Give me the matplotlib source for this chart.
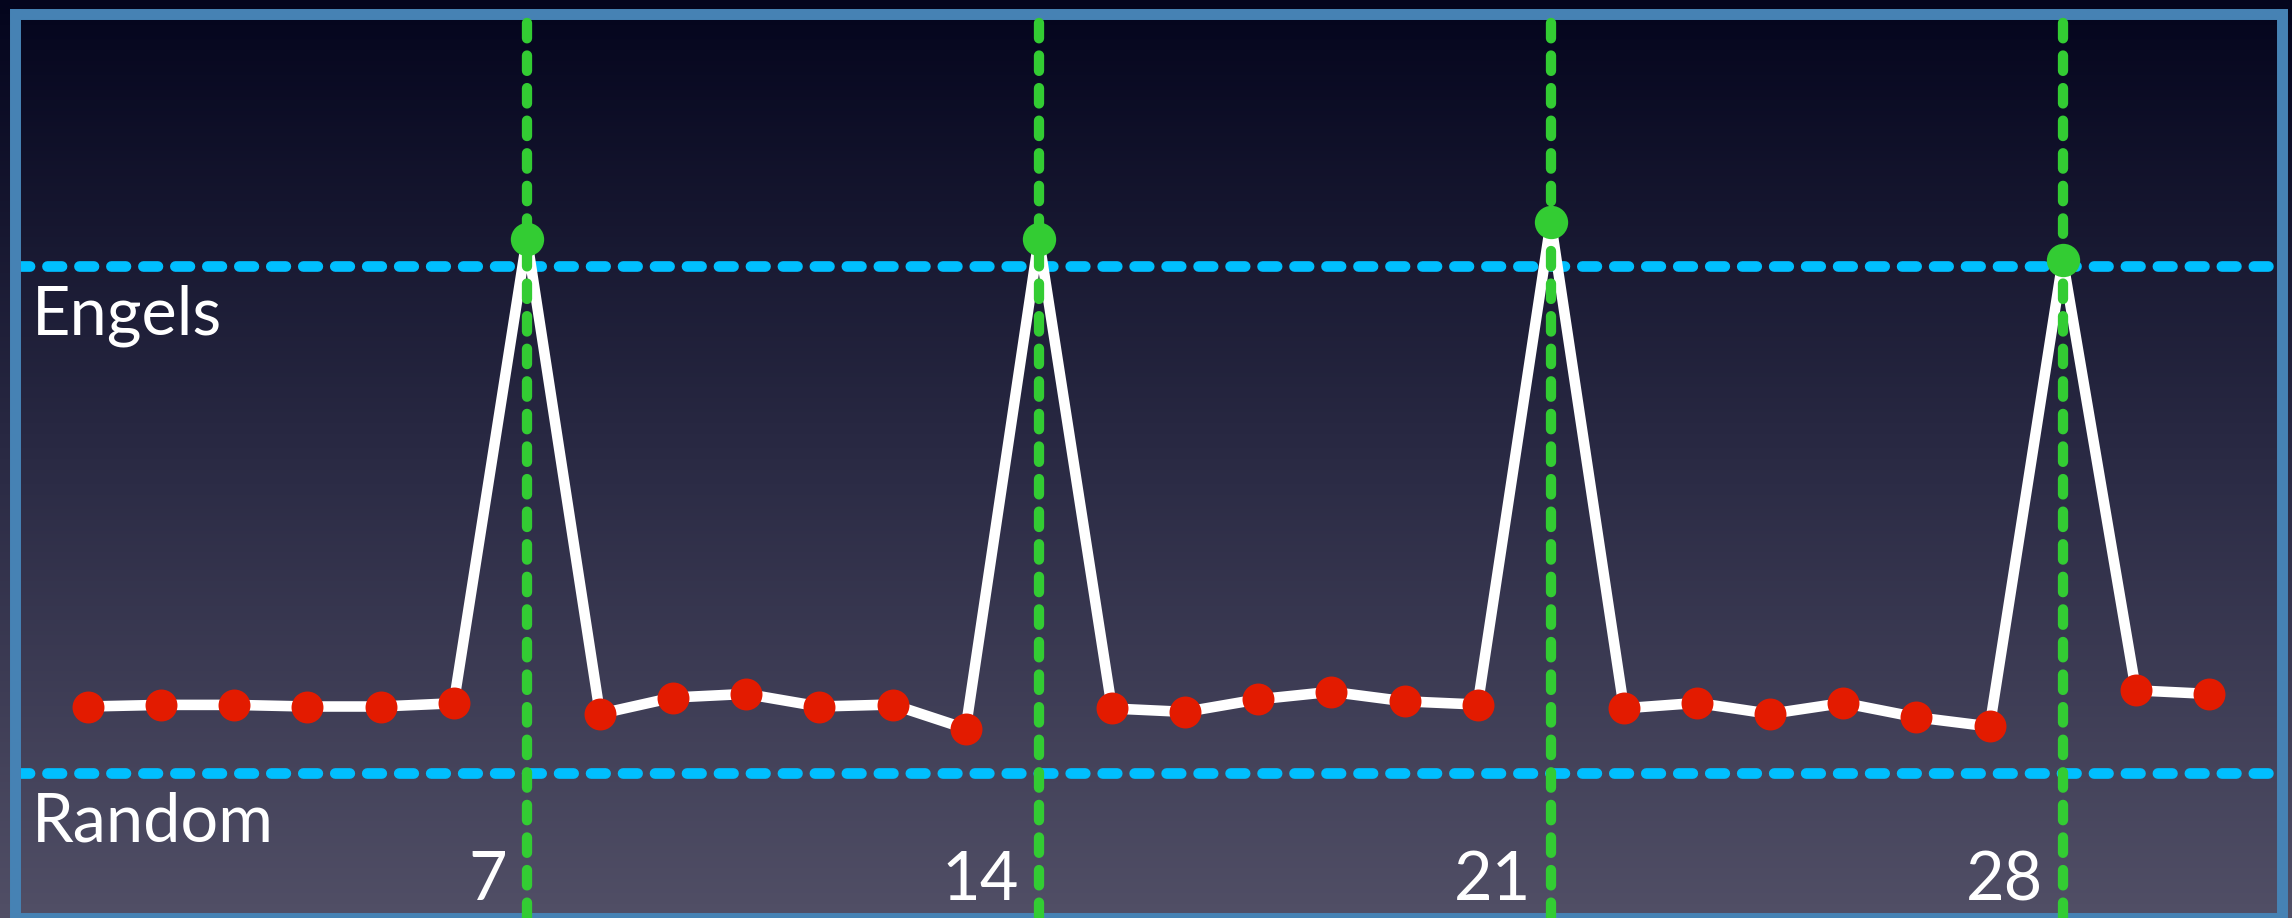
import numpy as np
import matplotlib.pyplot as plt
from matplotlib.colors import LinearSegmentedColormap

# ----------------------------
# Data: index of coincidence per assumed key length
# ----------------------------
key_length = list(range(1, 31))
coincidence = [
    0.04219, 0.04228, 0.04228, 0.04219, 0.04219, 0.04237, 0.06822,
    0.04178, 0.04269, 0.04289, 0.04219, 0.04230, 0.04096, 0.06822,
    0.04208, 0.04189, 0.04259, 0.04301, 0.04248, 0.04230, 0.06915,
    0.04209, 0.04239, 0.04178, 0.04239, 0.04159, 0.04108, 0.06703,
    0.04309, 0.04289,
]
peaks = [7, 14, 21, 28]
peak_labels = ["7", "14", "21", "28"]

ENGELS = 0.0667
RANDOM = 0.0385
reference_labels = ["Engels", "Random"]

# ----------------------------
# Figure + gradient background
# ----------------------------
fig = plt.figure(figsize=(22.92, 9.18), dpi=100)

bg = fig.add_axes([0, 0, 1, 1], zorder=0)
grad = np.linspace(0, 1, 256).reshape(-1, 1)
cmap = LinearSegmentedColormap.from_list("bg", ["#04051d", "#2a2a44", "#514f66"])
bg.imshow(grad, aspect="auto", cmap=cmap, extent=[0, 1, 0, 1], origin="upper")
bg.set_axis_off()

ax = fig.add_axes([14.86 / 2292, 0.0, (2282.2 - 14.86) / 2292, 1 - 14 / 918], zorder=1)
ax.patch.set_alpha(0)

ax.set_xlim(0, 31)
ax.set_ylim(0.03042, 0.08073)

for s in ax.spines.values():
    s.set_color("#4682b4")
    s.set_linewidth(7.9)
ax.set_xticks([])
ax.set_yticks([])

# reference levels
for level in (ENGELS, RANDOM):
    ax.axhline(level, color="#00bfff", linewidth=7.7, dashes=(1.36, 1.63),
               dash_capstyle="round", zorder=2)

# main curve
ax.plot(key_length, coincidence, color="white", linewidth=7.6, zorder=3)

# key-length multiples
for p in peaks:
    ax.axvline(p, color="#33cc33", linewidth=7.4, dashes=(1.5, 1.67),
               dash_capstyle="round", zorder=4)

# markers
normal_x = [x for x in key_length if x not in peaks]
normal_y = [coincidence[x - 1] for x in normal_x]
peak_y = [coincidence[p - 1] for p in peaks]
ax.plot(normal_x, normal_y, "o", color="#e31b00", markersize=23, markeredgewidth=0, zorder=5)
ax.plot(peaks, peak_y, "o", color="#33cc33", markersize=24, markeredgewidth=0, zorder=5)

# labels
font = dict(family=["Lato", "DejaVu Sans"], fontsize=48, color="white")
for level, txt in zip((ENGELS, RANDOM), reference_labels):
    ax.annotate(txt, xy=(0.0076, level), xycoords=("axes fraction", "data"),
                xytext=(0, -49.5), textcoords="offset points",
                ha="left", va="baseline", **font)

for p, txt in zip(peaks, peak_labels):
    ax.annotate(txt, xy=(p, 0.0197), xycoords=("data", "axes fraction"),
                xytext=(-14, 0), textcoords="offset points",
                ha="right", va="baseline", **font)

plt.savefig("out.png", dpi=100)
